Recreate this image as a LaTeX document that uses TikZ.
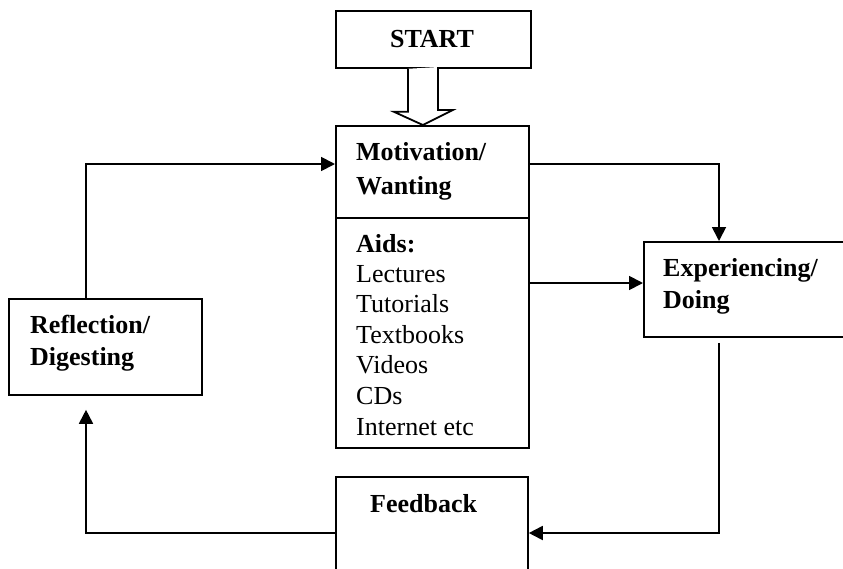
\documentclass[tikz,border=0pt]{standalone}
\usepackage{fontspec}
\setmainfont{Liberation Serif}
\usetikzlibrary{arrows.meta}
\begin{document}
\begin{tikzpicture}[x=1pt,y=-1pt,
  box/.style={draw,line width=1.8pt,rectangle,inner sep=0pt,anchor=north west},
  lbl/.style={anchor=base west,inner sep=0pt,font=\fontsize{26}{30}\selectfont\bfseries},
  item/.style={anchor=base west,inner sep=0pt,font=\fontsize{26}{30}\selectfont},
  arr/.style={line width=1.8pt,-{Triangle[length=14pt,width=14pt]}},
  hollow/.style={draw,line width=1.8pt,fill=white}]
\clip (0,0) rectangle (843,568);
\fill[white] (0,0) rectangle (843,568);
% boxes
\node[box,minimum width=195pt,minimum height=57pt] (start) at (335,10) {};
\node[box,minimum width=193pt,minimum height=92pt] (mot) at (335,125) {};
\node[box,minimum width=193pt,minimum height=230pt] (aids) at (335,217) {};
\node[box,minimum width=230pt,minimum height=95pt] (exp) at (643,241) {};
\node[box,minimum width=192pt,minimum height=130pt] (fb) at (335,476) {};
\node[box,minimum width=193pt,minimum height=96pt] (refl) at (8,298) {};
% texts
\node[lbl,anchor=base] (tstart) at (432,47) {START};
\node[lbl] (tmot1) at (356,160) {Motivation/};
\node[lbl] (tmot2) at (356,194) {Wanting};
\node[lbl] (taids) at (356,252) {Aids:};
\node[item] (t1) at (356,282) {Lectures};
\node[item] (t2) at (356,312) {Tutorials};
\node[item] (t3) at (356,343) {Textbooks};
\node[item] (t4) at (356,373) {Videos};
\node[item] (t5) at (356,404) {CDs};
\node[item] (t6) at (356,435) {Internet etc};
\node[lbl] (texp1) at (663,276) {Experiencing/};
\node[lbl] (texp2) at (663,308) {Doing};
\node[lbl] (tfb) at (370,512) {Feedback};
\node[lbl] (trefl1) at (30,333) {Reflection/};
\node[lbl] (trefl2) at (30,365) {Digesting};
% hollow arrow
\draw[hollow] ([xshift=-25.5pt]start.south) -- ++(0,43) -- ++(-14,0)
  -- ([xshift=-9.5pt]mot.north) -- ++(30,-15) -- ++(-15,0) -- ++(0,-43);
% connectors
\draw[arr] ([xshift=78pt]refl.north west) |- ([yshift=-39pt]mot.north west);
\draw[arr] ([yshift=-39pt]mot.north east) -| ([xshift=76pt]exp.north west);
\draw[arr] ([yshift=-66pt]aids.north east) -- ([yshift=-42pt]exp.north west);
\draw[arr] ([xshift=76pt,yshift=-5pt]exp.south west) |- ([yshift=-57pt]fb.north east);
\draw[arr] ([yshift=-57pt]fb.north west) -| ([xshift=78pt,yshift=-14pt]refl.south west);
\end{tikzpicture}
\end{document}
